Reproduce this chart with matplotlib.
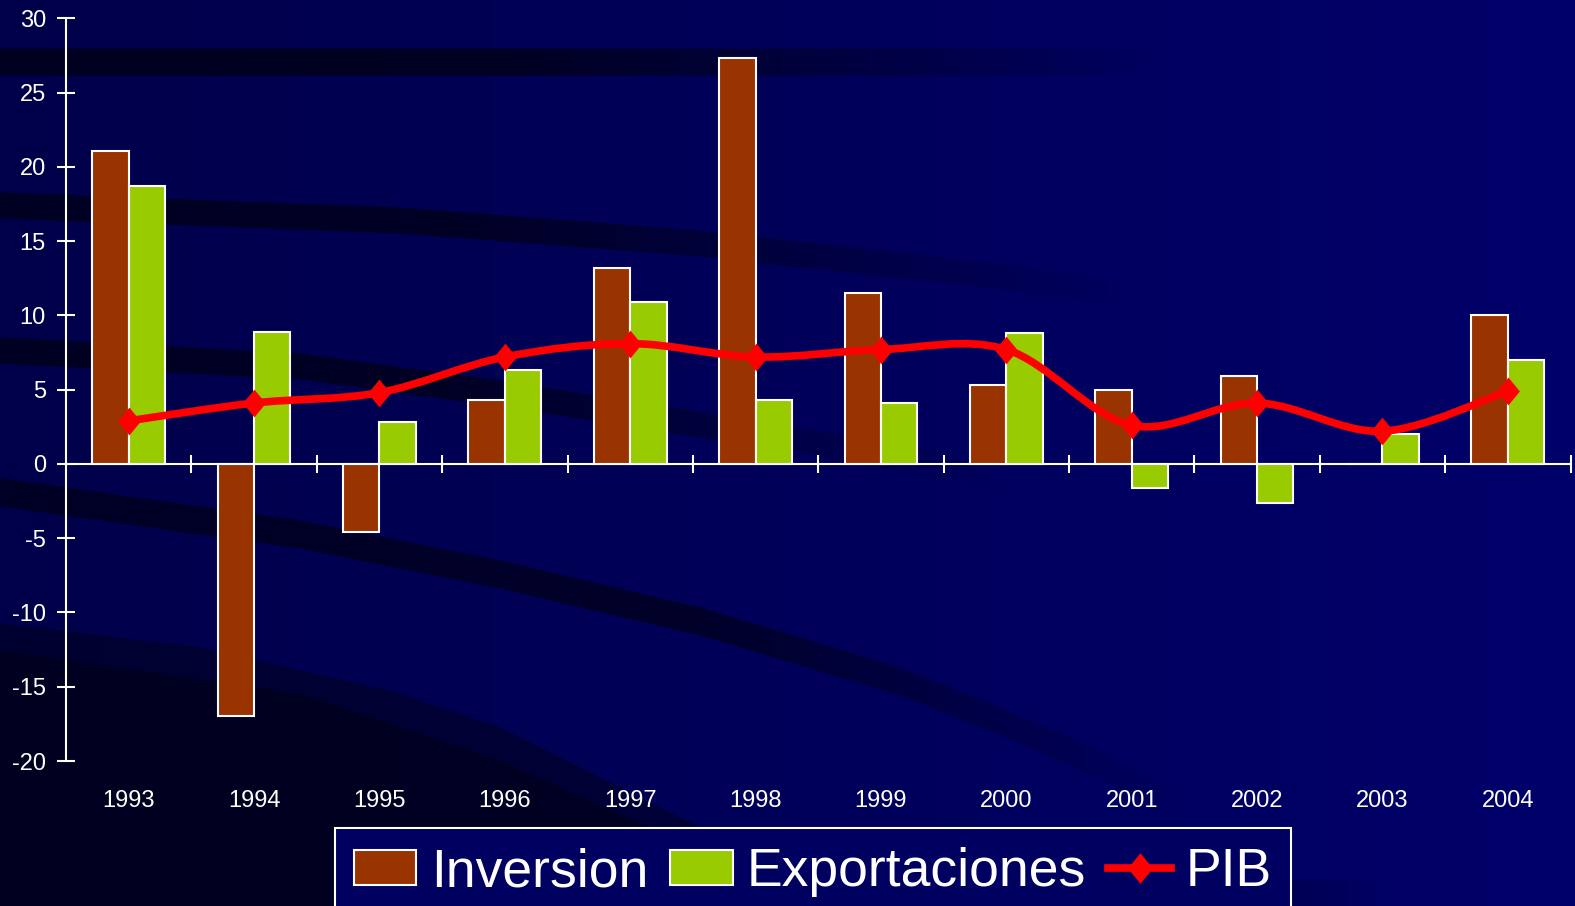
import numpy as np
import matplotlib
matplotlib.use("Agg")
import matplotlib.pyplot as plt
from matplotlib.path import Path
from matplotlib.patches import PathPatch
from matplotlib.lines import Line2D

plt.rcParams['font.family'] = ['Liberation Sans', 'DejaVu Sans']
plt.rcParams['axes.unicode_minus'] = False

years = ['1993', '1994', '1995', '1996', '1997', '1998',
         '1999', '2000', '2001', '2002', '2003', '2004']
inversion = [21.1, -17.0, -4.6, 4.3, 13.2, 27.3, 11.5, 5.3, 5.0, 5.9, 0.0, 10.0]
exportaciones = [18.7, 8.9, 2.8, 6.3, 10.9, 4.3, 4.1, 8.8, -1.6, -2.6, 2.0, 7.0]
pib = [2.9, 4.1, 4.8, 7.2, 8.1, 7.2, 7.7, 7.7, 2.6, 4.1, 2.2, 4.9]

W, H = 1575, 906
fig = plt.figure(figsize=(W / 100, H / 100), dpi=100)

# --- background: navy gradient with dark curved bands (template look) ---
yy, xx = np.mgrid[0:H, 0:W].astype(float)
col = xx[0]
base = np.zeros((H, W, 3))
base[..., 2] = (74 + 32 * (xx / W)) / 255
alpha = np.zeros((H, W))


def band(xs, tops, th, strength, f0, f1):
    top = np.interp(col, xs, tops)[None, :]
    fade = np.clip((f1 - col) / (f1 - f0), 0, 1)[None, :]
    m = np.clip(yy - top + 0.5, 0, 1)
    if th is not None:
        m = m * np.clip(top + th - yy + 0.5, 0, 1)
    return m * strength * fade


bands = [
    band([0, 1575], [48, 48], 27, 0.8, 500, 1180),
    band([0, 400, 700, 1000, 1200], [192, 207, 230, 263, 290], 26, 0.75, 450, 1150),
    band([0, 300, 500, 800, 950, 1100], [337, 353, 380, 427, 453, 490], 26, 0.75, 450, 1000),
    band([0, 300, 500, 700, 900, 1000, 1100, 1200],
         [478, 520, 560, 607, 667, 707, 750, 800], 28, 0.7, 700, 1200),
    band([0, 200, 400, 500, 600, 700, 800], [623, 647, 693, 727, 777, 827, 880], None, 0.5, 900, 1300),
    band([0, 300, 500, 650, 750], [650, 693, 760, 827, 880], None, 0.8, 1000, 1400),
]
for b in bands:
    alpha = np.maximum(alpha, b)
darkc = np.array([0, 0, 22 / 255])
bg = base * (1 - alpha[..., None]) + darkc * alpha[..., None]

bg_ax = fig.add_axes([0, 0, 1, 1], zorder=-10)
bg_ax.imshow(bg, aspect='auto', interpolation='bilinear')
bg_ax.axis('off')

# --- main chart ---
ax = fig.add_axes([66 / W, 1 - 761 / H, (1570.5 - 66) / W, (761 - 18.3) / H])
ax.patch.set_alpha(0)

x = np.arange(len(years))
w = 0.29
b1 = ax.bar(x - w / 2, inversion, w, color='#993300', edgecolor='white', linewidth=1.5,
            label='Inversion', zorder=2)
b2 = ax.bar(x + w / 2, exportaciones, w, color='#99CC00', edgecolor='white', linewidth=1.5,
            label='Exportaciones', zorder=2)

# smoothed PIB line (cubic bezier, like Excel's smoothed line)
pts = np.column_stack([x, pib])
ext = np.vstack([pts[0], pts, pts[-1]])
verts = [pts[0]]
codes = [Path.MOVETO]
for i in range(len(pts) - 1):
    p0, p1, p2, p3 = ext[i], ext[i + 1], ext[i + 2], ext[i + 3]
    verts += [p1 + (p2 - p0) / 6, p2 - (p3 - p1) / 6, p2]
    codes += [Path.CURVE4] * 3
ax.add_patch(PathPatch(Path(verts, codes), facecolor='none', edgecolor='#FF0000',
                       linewidth=5.5, capstyle='round', joinstyle='round', zorder=4))
diamond = [(0, 1), (0.82, 0), (0, -1), (-0.82, 0), (0, 1)]
ax.plot(x, pib, linestyle='none', marker=diamond, markersize=20, color='#FF0000',
        markeredgewidth=0, zorder=5)

ax.set_xlim(-0.5, len(years) - 0.5)
ax.set_ylim(-20, 30)
ax.set_yticks(range(-20, 31, 5))
ax.set_xticks(x)
ax.set_xticklabels(years)

for s in ['top', 'right', 'bottom']:
    ax.spines[s].set_visible(False)
ax.spines['left'].set_color('white')
ax.spines['left'].set_linewidth(1.5)
ax.tick_params(axis='y', direction='inout', length=13, width=1.5, colors='white',
               labelsize=17, pad=8)
ax.tick_params(axis='x', length=0, pad=21, labelcolor='white', labelsize=17)

# category axis line at zero with tick marks between categories
zero_loc = (0 - (-20)) / (30 - (-20))
sec = ax.secondary_xaxis(zero_loc)
sec.set_xticks(np.arange(0.5, len(years), 1))
sec.tick_params(axis='x', direction='inout', length=13, width=1.5, color='white',
                labelbottom=False, labeltop=False)
for s in sec.spines.values():
    s.set_color('white')
    s.set_linewidth(1.5)

pib_handle = Line2D([], [], color='#FF0000', linewidth=5.5, marker=diamond, markersize=22,
                    markeredgewidth=0)
leg = ax.legend([b1, b2, pib_handle], ['Inversion', 'Exportaciones', 'PIB'],
                loc='upper left', bbox_to_anchor=(334.5 / W, 1 - 828 / H),
                bbox_transform=fig.transFigure, ncol=3, fontsize=38.5, frameon=True,
                fancybox=False, edgecolor='white', facecolor='#000060', framealpha=1,
                borderpad=0.36, handlelength=1.17, handleheight=0.63, handletextpad=0.27,
                columnspacing=0.41, borderaxespad=0)
leg.get_frame().set_linewidth(1.5)
for t in leg.get_texts():
    t.set_color('white')

fig.savefig('out.png', dpi=100)
